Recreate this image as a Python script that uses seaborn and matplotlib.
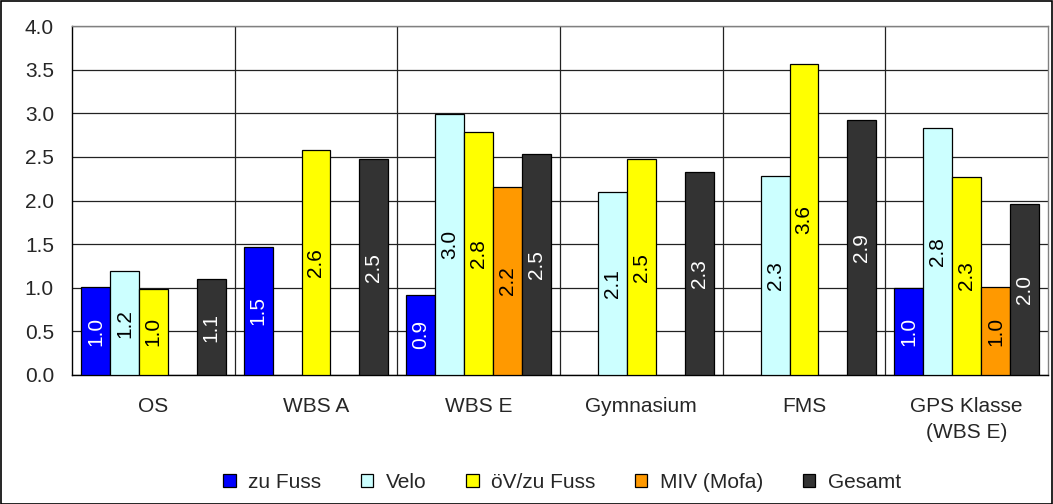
import matplotlib
matplotlib.use("Agg")
import matplotlib.pyplot as plt
import seaborn as sns
import pandas as pd
import numpy as np
from matplotlib.patches import Rectangle

categories = ["OS", "WBS A", "WBS E", "Gymnasium", "FMS", "GPS Klasse\n(WBS E)"]
series = ["zu Fuss", "Velo", "öV/zu Fuss", "MIV (Mofa)", "Gesamt"]
zu_fuss = [1.01, 1.47, 0.92, None, None, 1.00]
velo = [1.19, None, 2.99, 2.10, 2.28, 2.83]
oev = [0.99, 2.58, 2.79, 2.47, 3.56, 2.27]
miv = [None, None, 2.16, None, None, 1.01]
gesamt = [1.10, 2.47, 2.53, 2.33, 2.92, 1.96]
colors = ["#0000FF", "#CCFFFF", "#FFFF00", "#FF9900", "#333333"]
label_colors = ["white", "black", "black", "black", "white"]

rows = []
for s, vals in zip(series, [zu_fuss, velo, oev, miv, gesamt]):
    for c, v in zip(categories, vals):
        if v is not None:
            rows.append({"cat": c, "series": s, "value": v})
df = pd.DataFrame(rows)

sns.set_theme(style="white")
plt.rcParams["font.family"] = ["Liberation Sans", "DejaVu Sans"]
FS = 15

fig = plt.figure(figsize=(10.53, 5.04), dpi=100)
W, H = 1053, 504
ax = fig.add_axes([72 / W, (H - 375) / H, (1048 - 72) / W, (375 - 26) / H])

sns.barplot(data=df, x="cat", y="value", hue="series", order=categories,
            hue_order=series, palette=colors, width=0.89, saturation=1,
            edgecolor="black", linewidth=0.9, ax=ax, legend=True, zorder=3)

for cont, lc in zip(ax.containers, label_colors):
    ax.bar_label(cont, fmt="%.1f", label_type="center", rotation=90,
                 color=lc, fontsize=FS, zorder=4)

ax.set_ylim(0, 4.0)
ax.set_xlim(-0.5, len(categories) - 0.5)
ax.set_yticks(np.arange(0, 4.01, 0.5))
ax.set_yticklabels([f"{v:.1f}" for v in np.arange(0, 4.01, 0.5)], fontsize=FS)
ax.yaxis.grid(True, color="#222222", linewidth=0.9, zorder=0)
ax.set_axisbelow(True)
for xb in np.arange(0.5, len(categories) - 0.5, 1.0):
    ax.axvline(xb, color="#222222", linewidth=0.9, zorder=1)
ax.set_xticks(np.arange(-0.5, len(categories), 1.0), minor=False)
ax.set_xticklabels([])
ax.set_xticks(np.arange(len(categories)), minor=True)
ax.set_xticklabels(categories, minor=True, fontsize=FS, linespacing=1.45)
ax.tick_params(axis="x", which="major", direction="out", length=6, width=0.9, color="black")
ax.tick_params(axis="x", which="minor", length=0, pad=16)
ax.tick_params(axis="y", direction="out", length=5, width=0.9, color="black", pad=8)
ax.set_xlabel("")
ax.set_ylabel("")
for side in ["top", "right"]:
    ax.spines[side].set_color("#808080")
    ax.spines[side].set_linewidth(1.0)
for side in ["left", "bottom"]:
    ax.spines[side].set_color("black")
    ax.spines[side].set_linewidth(1.0)

handles, labels = ax.get_legend_handles_labels()
ax.legend_.remove()
fig.legend(handles, labels, loc="center", bbox_to_anchor=(562 / W, (H - 482) / H),
           ncol=5, frameon=False, fontsize=FS, handlelength=0.6, handleheight=0.6,
           columnspacing=1.9, handletextpad=0.6)

fig.add_artist(Rectangle((0.5 / W, 0.5 / H), 1 - 1.5 / W, 1 - 1.5 / H,
                         transform=fig.transFigure, fill=False, edgecolor="black", linewidth=1.2))

fig.savefig("out.png", dpi=100)
